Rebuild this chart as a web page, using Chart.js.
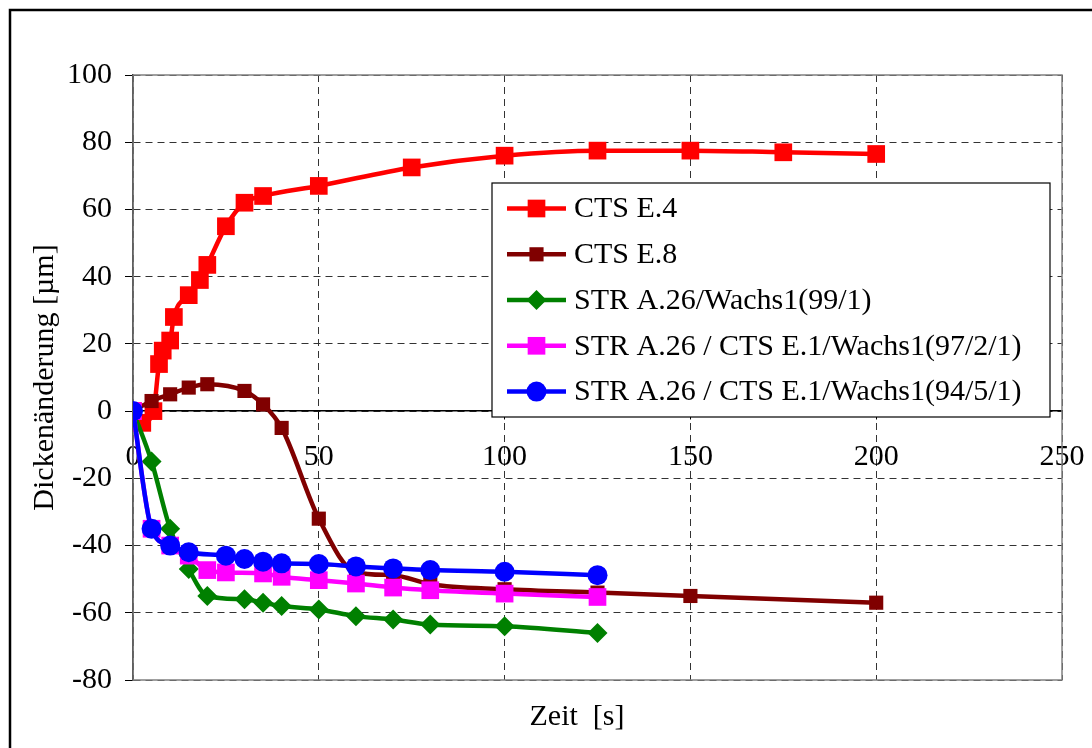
<!DOCTYPE html>
<html><head><meta charset="utf-8">
<script src="https://cdn.jsdelivr.net/npm/chart.js@4.4.0/dist/chart.umd.min.js"></script>
<style>html,body{margin:0;padding:0;background:#fff}#wrap{width:1092px;height:748px;position:relative}</style>
</head><body><div id="wrap"><canvas id="c" width="1092" height="748"></canvas></div>
<script>
const seriesNames = ['CTS E.4', 'CTS E.8', 'STR A.26/Wachs1(99/1)', 'STR A.26 / CTS E.1/Wachs1(97/2/1)', 'STR A.26 / CTS E.1/Wachs1(94/5/1)'];
const xTicks = [0, 50, 100, 150, 200, 250];
const yTicks = [-80, -60, -40, -20, 0, 20, 40, 60, 80, 100];
const xAxisTitle = 'Zeit  [s]';
const yAxisTitle = 'Dickenänderung [µm]';

const timeE4 = [0, 2.5, 5.5, 7, 8, 10, 11, 15, 18, 20, 25, 30, 35, 50, 75, 100, 125, 150, 175, 200];
const valE4  = [0, -3.5, 0, 14, 18, 21, 28, 34.5, 39, 43.5, 55, 62, 64, 67, 72.5, 76, 77.5, 77.5, 77, 76.5];

const timeE8 = [0, 5, 10, 15, 20, 30, 35, 40, 50, 60, 70, 80, 100, 125, 150, 200];
const valE8  = [0, 3, 5, 7, 8, 6, 2, -5, -32, -48, -48.8, -51.5, -53, -54, -55, -57];

const timeW99 = [0, 5, 10, 15, 20, 30, 35, 40, 50, 60, 70, 80, 100, 125];
const valW99  = [0, -15, -35, -47, -55, -56, -57, -58, -59, -61, -62, -63.5, -64, -66];

const timeW97 = [0, 5, 10, 15, 20, 25, 35, 40, 50, 60, 70, 80, 100, 125];
const valW97  = [0, -35, -40, -43, -47.3, -48, -48.3, -49.3, -50.3, -51.3, -52.5, -53.3, -54.3, -55.3];

const timeW94 = [0, 5, 10, 15, 25, 30, 35, 40, 50, 60, 70, 80, 100, 125];
const valW94  = [0, -35, -40, -42, -43, -44, -44.8, -45.3, -45.5, -46.2, -46.8, -47.3, -47.8, -48.8];

const colors = ['#FF0000', '#800000', '#008000', '#FF00FF', '#0000FF'];
const styles = ['rect', 'rect', 'rectRot', 'rect', 'circle'];
const radii = [12.5, 10, 10, 12.5, 10];

const FONT = "'Liberation Serif', 'Times New Roman', serif";

function pts(xs, ys) { return xs.map((x, i) => ({x: x, y: ys[i]})); }
const allData = [pts(timeE4, valE4), pts(timeE8, valE8), pts(timeW99, valW99), pts(timeW97, valW97), pts(timeW94, valW94)];

const datasets = allData.map((d, i) => ({
  label: seriesNames[i],
  data: d,
  borderColor: colors[i],
  backgroundColor: colors[i],
  pointBackgroundColor: colors[i],
  pointBorderColor: colors[i],
  pointStyle: styles[i],
  pointRadius: radii[i],
  pointHoverRadius: radii[i],
  pointBorderWidth: 0,
  borderWidth: 4.5,
  cubicInterpolationMode: 'monotone',
  fill: false,
  order: 5 - i
}));

function drawMarker(ctx, style, r, x, y, color) {
  ctx.save();
  ctx.fillStyle = color;
  ctx.beginPath();
  if (style === 'rect') {
    const s = Math.SQRT1_2 * r;
    ctx.rect(x - s, y - s, 2 * s, 2 * s);
  } else if (style === 'rectRot') {
    ctx.moveTo(x - r, y); ctx.lineTo(x, y - r); ctx.lineTo(x + r, y); ctx.lineTo(x, y + r); ctx.closePath();
  } else {
    ctx.arc(x, y, r, 0, Math.PI * 2);
  }
  ctx.fill();
  ctx.restore();
}

const decor = {
  id: 'decor',
  beforeDraw(chart) {
    const ctx = chart.ctx;
    ctx.save();
    ctx.fillStyle = '#fff';
    ctx.fillRect(0, 0, chart.width, chart.height);
    ctx.strokeStyle = '#000';
    ctx.lineWidth = 2.5;
    ctx.strokeRect(10, 10, 1110, 780);
    ctx.restore();
  },
  beforeDatasetsDraw(chart) {
    const a = chart.chartArea, ctx = chart.ctx;
    ctx.save();
    ctx.strokeStyle = '#808080';
    ctx.lineWidth = 1.5;
    ctx.strokeRect(a.left, a.top, a.right - a.left, a.bottom - a.top);
    ctx.restore();
  },
  afterDraw(chart) {
    const ctx = chart.ctx;
    ctx.save();
    ctx.fillStyle = '#000';
    ctx.font = '30px ' + FONT;
    ctx.textAlign = 'center';
    ctx.textBaseline = 'middle';
    ctx.fillText(xAxisTitle, 577, 717);
    const L = 492, T = 183, R = 1050, B = 417;
    ctx.fillStyle = '#fff';
    ctx.fillRect(L, T, R - L, B - T);
    ctx.strokeStyle = '#000';
    ctx.lineWidth = 1.2;
    ctx.strokeRect(L, T, R - L, B - T);
    const rowY = [208.5, 254.3, 300, 345.8, 391.6];
    seriesNames.forEach((name, i) => {
      const y = rowY[i];
      ctx.strokeStyle = colors[i];
      ctx.lineWidth = 4.5;
      ctx.beginPath();
      ctx.moveTo(507, y); ctx.lineTo(566, y);
      ctx.stroke();
      drawMarker(ctx, styles[i], radii[i], 536.5, y, colors[i]);
      ctx.fillStyle = '#000';
      ctx.textAlign = 'left';
      ctx.textBaseline = 'middle';
      ctx.font = '30px ' + FONT;
      ctx.fillText(name, 574, y + 1);
    });
    ctx.restore();
  }
};

new Chart(document.getElementById('c'), {
  type: 'line',
  data: { datasets: datasets },
  plugins: [decor],
  options: {
    responsive: false,
    animation: false,
    devicePixelRatio: 1,
    layout: { padding: { left: 0, right: 30, top: 75, bottom: 68 } },
    plugins: { legend: { display: false }, tooltip: { enabled: false }, title: { display: false } },
    scales: {
      x: {
        type: 'linear',
        position: { y: 0 },
        min: 0, max: 250,
        afterBuildTicks(s) { s.ticks = xTicks.map(v => ({value: v})); },
        afterFit(s) { s.paddingLeft = 0; s.paddingRight = 0; },
        ticks: { font: { family: FONT, size: 30 }, color: '#000', padding: 20, maxRotation: 0, autoSkip: false },
        grid: { color: '#333', lineWidth: 1, tickLength: 8, tickColor: '#000', tickBorderDash: [], drawOnChartArea: true },
        border: { display: true, color: '#000', width: 1.5, dash: [7, 5] }
      },
      y: {
        type: 'linear',
        position: 'left',
        min: -80, max: 100,
        afterBuildTicks(s) { s.ticks = yTicks.map(v => ({value: v})); },
        afterFit(s) { s.width = 133; },
        ticks: { font: { family: FONT, size: 30 }, color: '#000', padding: 13, autoSkip: false },
        grid: { color: '#333', lineWidth: 1, tickLength: 8, tickColor: '#000', tickBorderDash: [] },
        border: { display: true, color: '#000', width: 1.5, dash: [7, 5] },
        title: { display: true, text: yAxisTitle, font: { family: FONT, size: 30 }, color: '#000', padding: { top: 27, bottom: 0 } }
      }
    }
  }
});
</script>
</body></html>
